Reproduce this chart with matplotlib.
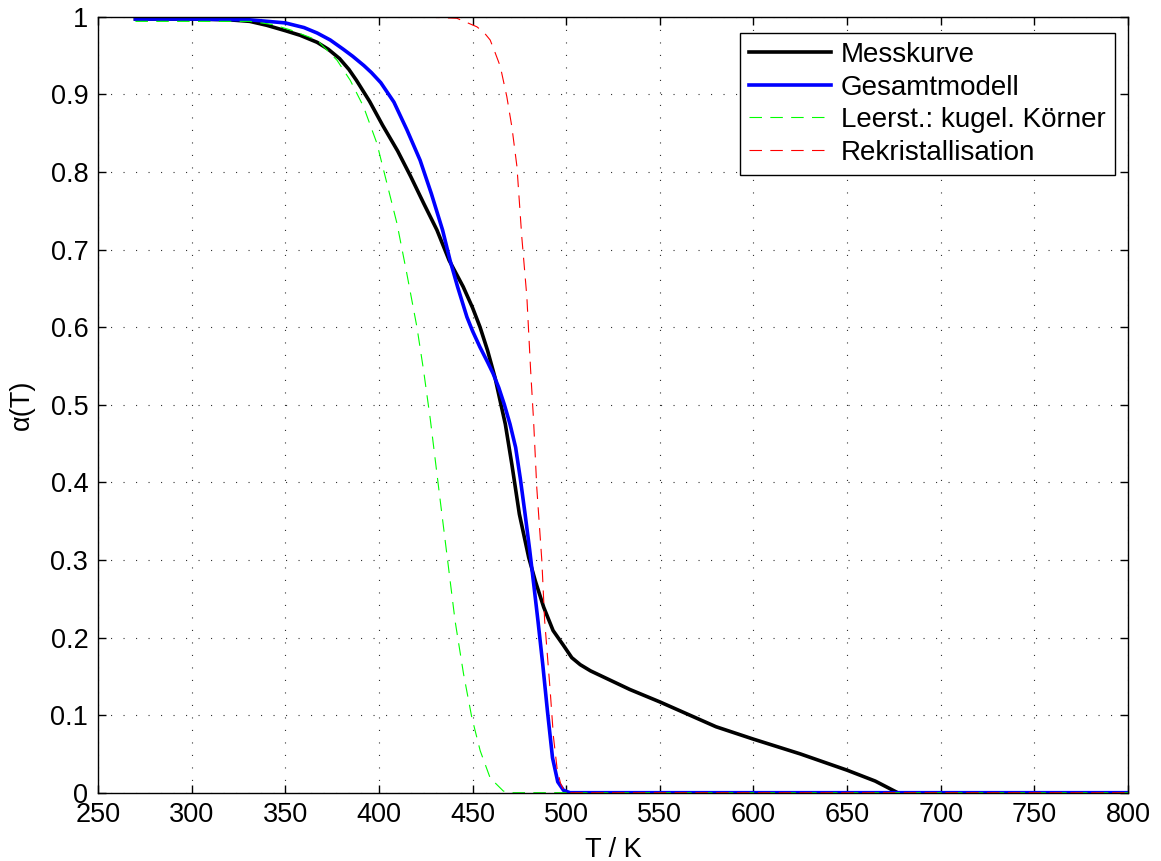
import matplotlib
matplotlib.use("Agg")
import matplotlib.pyplot as plt
from matplotlib.ticker import FormatStrFormatter, MultipleLocator

plt.rcParams['font.family'] = ['Liberation Sans', 'DejaVu Sans']
plt.rcParams['font.size'] = 19.5
plt.rcParams['lines.scale_dashes'] = False

# Messkurve
mess_T = [270, 300, 320, 331, 340, 350, 358, 367, 373, 379, 384, 388, 395, 402, 410,
          417, 424, 431, 437.5, 445, 450, 454, 458, 462, 465, 467.5, 471, 475, 480,
          483.5, 488, 493, 498.5, 503, 507.5, 513, 520, 534, 550, 565, 580, 600, 625,
          650, 665, 677]
mess_a = [0.997, 0.997, 0.996, 0.994, 0.989, 0.982, 0.976, 0.967, 0.958, 0.946, 0.932,
          0.918, 0.891, 0.860, 0.827, 0.794, 0.759, 0.725, 0.686, 0.652, 0.625, 0.600,
          0.570, 0.535, 0.502, 0.475, 0.423, 0.359, 0.303, 0.273, 0.239, 0.209, 0.190,
          0.174, 0.165, 0.157, 0.149, 0.133, 0.117, 0.101, 0.085, 0.069, 0.050, 0.029,
          0.015, 0.0]

# Gesamtmodell
ges_T = [270, 300, 331, 350, 360, 367, 374, 381, 386, 392, 396, 401, 408, 415, 422,
         428, 434, 438, 442, 447, 450, 454, 458, 461, 464, 467, 470, 473, 475.5, 478,
         480.5, 482.7, 485, 487.5, 490, 492.7, 495.5, 498.6, 502, 505, 800]
ges_a = [0.997, 0.997, 0.996, 0.992, 0.986, 0.979, 0.970, 0.958, 0.949, 0.937, 0.928,
         0.915, 0.890, 0.854, 0.815, 0.772, 0.725, 0.686, 0.652, 0.613, 0.595, 0.574,
         0.555, 0.540, 0.522, 0.500, 0.475, 0.445, 0.405, 0.360, 0.313, 0.268, 0.220,
         0.165, 0.105, 0.045, 0.014, 0.003, 0.0, 0.0, 0.0]

# Leerst.: kugel. Koerner
leer_T = [270, 300, 331, 343, 352.7, 366.9, 377.6, 384.7, 391.8, 398.9, 404.3, 409.6,
          414.9, 420.3, 423.8, 427.4, 431.9, 436.3, 440.7, 445.2, 449.6, 454.1, 459.4,
          466.5, 470, 800]
leer_a = [0.994, 0.994, 0.994, 0.990, 0.983, 0.970, 0.944, 0.918, 0.884, 0.837, 0.785,
          0.734, 0.669, 0.600, 0.545, 0.482, 0.393, 0.307, 0.221, 0.153, 0.097, 0.054,
          0.019, 0.002, 0.0, 0.0]

# Rekristallisation
rek_T = [270, 420, 441.6, 452.3, 456, 459.4, 462, 464.8, 468.3, 471, 473.7, 476.3, 479,
         481, 482.6, 484.3, 487, 488.5, 491.5, 493.2, 495.2, 497, 498.6, 502, 800]
rek_a = [1.0, 1.0, 0.998, 0.987, 0.980, 0.970, 0.954, 0.936, 0.897, 0.858, 0.807, 0.716,
         0.639, 0.545, 0.479, 0.393, 0.299, 0.222, 0.130, 0.072, 0.030, 0.012, 0.004,
         0.0, 0.0]

fig = plt.figure(figsize=(11.61, 8.61), dpi=100)
ax = fig.add_axes([98 / 1161, 1 - 792.7 / 861, 1030 / 1161, 776 / 861])

ax.plot(mess_T, mess_a, color='k', lw=2.6, label='Messkurve')
ax.plot(ges_T, ges_a, color=(0, 0, 1), lw=2.6, label='Gesamtmodell')
ax.plot(leer_T, leer_a, color=(0, 1, 0), lw=0.8, dashes=(9, 6),
        label='Leerst.: kugel. Körner')
ax.plot(rek_T, rek_a, color=(1, 0, 0), lw=0.8, dashes=(9, 6),
        label='Rekristallisation')

ax.set_xlim(250, 800)
ax.set_ylim(0, 1)
ax.xaxis.set_major_locator(MultipleLocator(50))
ax.yaxis.set_major_locator(MultipleLocator(0.1))
ax.yaxis.set_major_formatter(FormatStrFormatter('%g'))

ax.grid(True, color='0.2', lw=0.8, linestyle=(0, (0.8, 8.2)))
ax.tick_params(direction='in', length=6, width=1, top=True, right=True, pad=7)
for s in ax.spines.values():
    s.set_linewidth(1.0)

ax.set_xlabel('T / K')
ax.set_ylabel('α(T)')
ax.xaxis.set_label_coords(0.5, -0.057)
ax.yaxis.set_label_coords(-0.061, 0.5)

leg = ax.legend(loc='upper right', bbox_to_anchor=(1 - 13 / 1030, 1 - 16 / 776),
                borderaxespad=0, fontsize=20, fancybox=False, framealpha=1,
                edgecolor='k', handlelength=2.95, handletextpad=0.35,
                labelspacing=0.24, borderpad=0.33)
leg.get_frame().set_linewidth(1.0)

fig.savefig('out.png', dpi=100)
